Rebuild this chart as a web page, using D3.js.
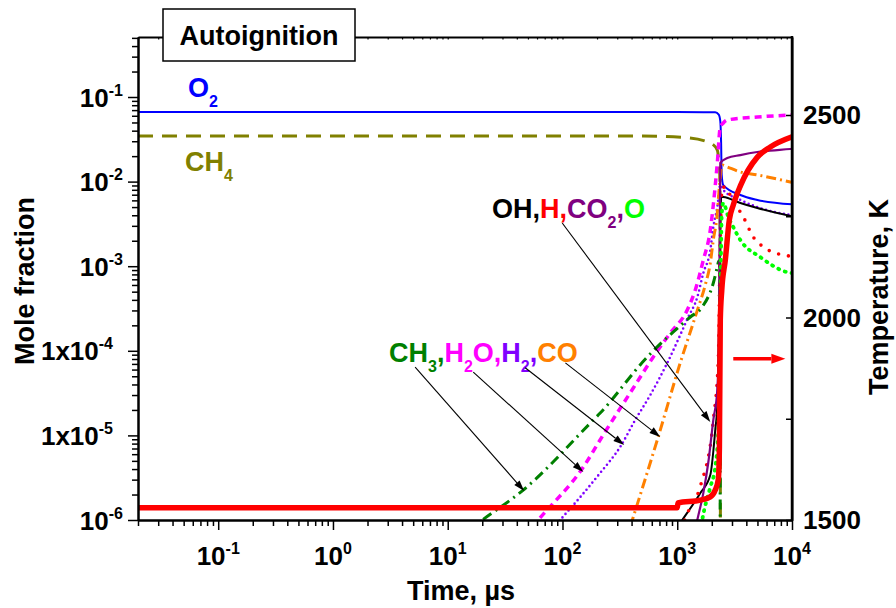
<!DOCTYPE html>
<html>
<head>
<meta charset="utf-8">
<script src="https://cdn.jsdelivr.net/npm/d3@7"></script>
<style>
  html, body { margin: 0; padding: 0; background: #fff; }
  svg { display: block; font-family: "Liberation Sans", Arial, Helvetica, sans-serif; font-weight: bold; }
</style>
</head>
<body>
<svg id="chart" width="896" height="608"></svg>
<script>
// ---- axis ranges and tick labels ----
const timeDomain = [0.02, 1e4];          // µs
const moleDomain = [1e-6, 0.512];        // mole fraction
const tempDomain = [1500, 2692.6];       // K

const timeTicks = [0.1, 1, 10, 100, 1000, 10000];
const timeTickLabels = [["10", "-1"], ["10", "0"], ["10", "1"], ["10", "2"], ["10", "3"], ["10", "4"]];
const moleTicks = [1e-6, 1e-5, 1e-4, 1e-3, 1e-2, 1e-1];
const moleTickLabels = [["10", "-6"], ["1x10", "-5"], ["1x10", "-4"], ["10", "-3"], ["10", "-2"], ["10", "-1"]];
const tempTicks = [1500, 1750, 2000, 2250, 2500];
const tempTickLabels = ["1500", "", "2000", "", "2500"];

// ---- species profiles: [time µs, mole fraction] ----
const O2 = [[0.02, 6.65e-2], [100, 6.65e-2], [1000, 6.63e-2], [2144, 6.6e-2], [2300, 6.2e-2], [2372, 5.2e-2],
  [2410, 3.0e-2], [2440, 1.2e-2], [2518, 9.1e-3], [3548, 6.95e-3], [4990, 6.07e-3], [10000, 5.4e-3]];
const CH4 = [[0.02, 3.46e-2], [500, 3.45e-2], [1200, 3.3e-2], [1941, 2.86e-2], [2234, 2.36e-2], [2300, 1.8e-2],
  [2350, 1.2e-2], [2365, 1e-3], [2380, 1e-7]];
const H2O = [[40, 5e-7], [61.4, 1e-6], [152, 4.23e-6], [226, 1.01e-5], [414, 3.63e-5], [618, 8.45e-5], [869, 1.62e-4],
  [1222, 3.03e-4], [1436, 5.23e-4], [1687, 1.18e-3], [1941, 2.68e-3], [2062, 5.29e-3], [2234, 1.66e-2],
  [2372, 4.42e-2], [2518, 4.93e-2], [2730, 5.35e-2], [4990, 5.8e-2], [10000, 6.13e-2]];
const H2 = [[62, 5e-7], [95.5, 1e-6], [143, 1.87e-6], [213, 3.6e-6], [318, 7.3e-6], [430, 1.52e-5], [582, 3.0e-5],
  [819, 7.2e-5], [1247, 2.5e-4], [1495, 4.3e-4], [1687, 8.3e-4], [1941, 1.55e-3], [2062, 2.9e-3], [2234, 5.0e-3],
  [2372, 9.1e-3], [2518, 7.96e-3], [3548, 6.07e-3], [4990, 5.0e-3], [10000, 4.0e-3]];
const CO = [[345, 5e-7], [406, 1e-6], [670, 8.83e-6], [1062, 7.2e-5], [1495, 3.0e-4], [1754, 6.0e-4], [1941, 1.09e-3],
  [2062, 2.04e-3], [2234, 4.26e-3], [2280, 6.07e-3], [2468, 1.57e-2], [2730, 1.49e-2], [3548, 1.30e-2],
  [4990, 1.20e-2], [9662, 9.9e-3], [10000, 9.8e-3]];
const CH3 = [[10, 5e-7], [20, 1e-6], [45.5, 2.26e-6], [175, 1.40e-5], [213, 1.84e-5], [548, 8.45e-5], [1300, 2.51e-4],
  [1652, 3.30e-4], [2062, 6.33e-4], [2234, 9.8e-4], [2300, 1.15e-3], [2350, 9e-4], [2372, 1e-7]];
const OH = [[860, 6e-7], [1106, 1e-6], [1589, 2.08e-6], [1941, 3.4e-6], [2144, 1.16e-5], [2234, 2.29e-5], [2324, 3e-4],
  [2372, 3e-3], [2420, 6.6e-3], [2518, 6.58e-3], [3548, 5.59e-3], [4990, 4.87e-3], [10000, 3.9e-3]];
const H = [[1000, 6e-7], [1230, 1.21e-6], [1589, 2.5e-6], [2062, 1.5e-5], [2280, 8e-5], [2372, 2e-3], [2468, 8.6e-3],
  [2624, 8.6e-3], [3020, 6.07e-3], [3766, 3.82e-3], [4602, 2.21e-3], [5624, 1.69e-3], [6730, 1.47e-3],
  [8396, 1.36e-3], [10000, 1.3e-3]];
const CO2 = [[1376, 6e-7], [1495, 1e-6], [1687, 2.08e-6], [1862, 4.72e-6], [2062, 1.52e-5], [2234, 3.44e-5], [2324, 3e-4],
  [2372, 1.66e-2], [2730, 1.9e-2], [3548, 2.06e-2], [4990, 2.24e-2], [9662, 2.43e-2], [10000, 2.44e-2]];
const O = [[1560, 6e-7], [1652, 1e-6], [1941, 2.45e-6], [2144, 4.23e-6], [2280, 1.16e-5], [2372, 3e-4], [2440, 4e-3],
  [2518, 5.59e-3], [2786, 3.82e-3], [3078, 2.9e-3], [3548, 2.04e-3], [5296, 1.28e-3], [9100, 8.5e-4], [10000, 8.3e-4]];

// ---- temperature profile: [time µs, K] ----
const temperature = [[0.02, 1530], [1000, 1530], [1015, 1542], [1589, 1549], [1941, 1557], [2144, 1574], [2280, 1600],
  [2330, 1680], [2372, 1994], [2444, 2068], [2624, 2142], [2843, 2241], [3078, 2278], [3548, 2325], [4990, 2396],
  [6472, 2421], [10000, 2446]];

// ---- annotation arrows (data coordinates) ----
const speciesArrows = [
  { from: [5.2, 6.4e-5], to: [46.4, 2.2e-6] },
  { from: [16.7, 5.6e-5], to: [152, 3.7e-6] },
  { from: [47.3, 6.3e-5], to: [345, 7.7e-6] },
  { from: [106, 7.2e-5], to: [711, 9.6e-6] },
  { from: [99.5, 3.24e-3], to: [1941, 1.44e-5] }
];
const tempArrow = { from: [3078, 1898], to: [8750, 1898] };

// ---- layout ----
const L = 138, R = 792, TOP = 37, BOT = 520;
const svg = d3.select("#chart");

const x = d3.scaleLog().domain(timeDomain).range([L, R]);
const y = d3.scaleLog().domain(moleDomain).range([BOT, TOP]);
const yT = d3.scaleLinear().domain(tempDomain).range([BOT, TOP]);

svg.append("defs").append("clipPath").attr("id", "plotClip")
  .append("rect").attr("x", L).attr("y", TOP).attr("width", R - L).attr("height", BOT - TOP);

const plot = svg.append("g").attr("clip-path", "url(#plotClip)");

const line = d3.line()
  .x(d => x(d[0]))
  .y(d => y(Math.max(d[1], 1e-9)))
  .curve(d3.curveMonotoneX);

const styles = [
  { data: O2, color: "#0000ff", width: 2 },
  { data: CH4, color: "#808000", width: 3, dash: "15,9" },
  { data: H2O, color: "#ff00ff", width: 3.5, dash: "7,5" },
  { data: H2, color: "#8000ff", width: 2.6, dash: "0,4.6", cap: "round" },
  { data: CO, color: "#ff8000", width: 3, dash: "10,4,2,4" },
  { data: CH3, color: "#008000", width: 3, dash: "10,5,2,5" },
  { data: OH, color: "#000000", width: 2 },
  { data: H, color: "#ff0000", width: 3.6, dash: "0,10", cap: "round" },
  { data: CO2, color: "#800080", width: 2.2 },
  { data: O, color: "#00ff00", width: 3.8, dash: "1,6", cap: "round" }
];

styles.forEach(s => {
  plot.append("path")
    .datum(s.data)
    .attr("d", line)
    .attr("fill", "none")
    .attr("stroke", s.color)
    .attr("stroke-width", s.width)
    .attr("stroke-dasharray", s.dash || null)
    .attr("stroke-linecap", s.cap || "butt")
    .attr("stroke-linejoin", "round");
});

const tLine = d3.line()
  .x(d => x(d[0]))
  .y(d => yT(d[1]))
  .curve(d3.curveMonotoneX);

plot.append("path")
  .datum(temperature)
  .attr("d", tLine)
  .attr("fill", "none")
  .attr("stroke", "#ff0000")
  .attr("stroke-width", 5.5)
  .attr("stroke-linejoin", "round");

// ---- axes ----
function minorLog(domain) {
  const out = [];
  for (let e = Math.floor(Math.log10(domain[0])); e <= Math.ceil(Math.log10(domain[1])); e++) {
    for (let m = 2; m <= 9; m++) {
      const v = m * Math.pow(10, e);
      if (v >= domain[0] * 0.999 && v <= domain[1] * 1.001) out.push(v);
    }
  }
  return out;
}
const timeMinor = minorLog(timeDomain);
const moleMinor = minorLog(moleDomain);

function styleAxis(g, tickW) {
  g.selectAll("path.domain").attr("stroke", "#000").attr("stroke-width", 2);
  g.selectAll(".tick line").attr("stroke", "#000").attr("stroke-width", tickW || 1.5);
  g.selectAll(".tick text").remove();
}

// bottom
svg.append("g").attr("transform", `translate(0,${BOT})`)
  .call(d3.axisBottom(x).tickValues(timeMinor).tickSize(6).tickSizeOuter(0).tickFormat(""))
  .call(g => styleAxis(g));
svg.append("g").attr("transform", `translate(0,${BOT})`)
  .call(d3.axisBottom(x).tickValues(timeTicks).tickSize(10).tickSizeOuter(0).tickFormat(""))
  .call(g => styleAxis(g));
// top (small inward ticks)
svg.append("g").attr("transform", `translate(0,${TOP})`)
  .call(d3.axisBottom(x).tickValues(timeMinor.concat(timeTicks)).tickSize(2.5).tickSizeOuter(0).tickFormat(""))
  .call(g => styleAxis(g, 1.2));
// left
svg.append("g").attr("transform", `translate(${L},0)`)
  .call(d3.axisLeft(y).tickValues(moleMinor).tickSize(6).tickSizeOuter(0).tickFormat(""))
  .call(g => styleAxis(g));
svg.append("g").attr("transform", `translate(${L},0)`)
  .call(d3.axisLeft(y).tickValues(moleTicks).tickSize(10).tickSizeOuter(0).tickFormat(""))
  .call(g => styleAxis(g));
// right (temperature, inward ticks)
svg.append("g").attr("transform", `translate(${R},0)`)
  .call(d3.axisLeft(yT).tickValues(tempTicks).tickSize(6).tickSizeOuter(0).tickFormat(""))
  .call(g => styleAxis(g));
svg.append("line").attr("x1", R).attr("x2", R).attr("y1", TOP - 1).attr("y2", BOT + 1)
  .attr("stroke", "#000").attr("stroke-width", 2.5);

// ---- rich text helper (sub/superscripts) ----
function rich(parent, px, py, parts, size, anchor) {
  const t = parent.append("text").attr("x", px).attr("y", py)
    .attr("font-size", size).attr("text-anchor", anchor || "start");
  let shift = 0;
  parts.forEach(p => {
    const target = p.shift || 0;
    const ts = t.append("tspan").text(p.text).attr("fill", p.color || "#000");
    if (p.size) ts.attr("font-size", p.size);
    if (target !== shift) { ts.attr("dy", target - shift); shift = target; }
  });
  return t;
}
const SUB = 10, SUP = -11, SMALL = 16;

// tick labels
timeTicks.forEach((v, i) => {
  rich(svg, x(v), 565, [{ text: timeTickLabels[i][0] }, { text: timeTickLabels[i][1], shift: SUP, size: SMALL }], 26, "middle");
});
moleTicks.forEach((v, i) => {
  const lab = moleTickLabels[i];
  const right = lab[0].length > 2 ? 113 : 123;
  rich(svg, right, y(v) + 9.5, [{ text: lab[0] }, { text: lab[1], shift: SUP, size: SMALL }], 26, "end");
});
tempTicks.forEach((v, i) => {
  if (!tempTickLabels[i]) return;
  svg.append("text").attr("x", 803).attr("y", yT(v) + 9).attr("font-size", 26).text(tempTickLabels[i]);
});

// axis titles
svg.append("text").attr("x", 461).attr("y", 600).attr("font-size", 27)
  .attr("text-anchor", "middle").text("Time, \u00b5s");
svg.append("text").attr("transform", "translate(34,281) rotate(-90)").attr("font-size", 27)
  .attr("text-anchor", "middle").text("Mole fraction");
svg.append("text").attr("transform", "translate(888,297) rotate(-90)").attr("font-size", 27)
  .attr("text-anchor", "middle").text("Temperature, K");

// title box
svg.append("rect").attr("x", 163).attr("y", 9).attr("width", 192).attr("height", 52)
  .attr("fill", "#fff").attr("stroke", "#000").attr("stroke-width", 1.5);
svg.append("text").attr("x", 259).attr("y", 45).attr("font-size", 27)
  .attr("text-anchor", "middle").text("Autoignition");

// species labels
rich(svg, 188, 97, [{ text: "O", color: "#0000ff" }, { text: "2", color: "#0000ff", shift: SUB, size: SMALL }], 27);
rich(svg, 185, 171, [{ text: "CH", color: "#808000" }, { text: "4", color: "#808000", shift: SUB, size: SMALL }], 27);
rich(svg, 492, 218, [
  { text: "OH,", color: "#000" },
  { text: "H,", color: "#ff0000" },
  { text: "CO", color: "#800080" },
  { text: "2", color: "#800080", shift: SUB, size: SMALL },
  { text: ",", color: "#800080" },
  { text: "O", color: "#00ff00" }
], 27);
rich(svg, 389, 362, [
  { text: "CH", color: "#008000" },
  { text: "3", color: "#008000", shift: SUB, size: SMALL },
  { text: ",", color: "#008000" },
  { text: "H", color: "#ff00ff" },
  { text: "2", color: "#ff00ff", shift: SUB, size: SMALL },
  { text: "O,", color: "#ff00ff" },
  { text: "H", color: "#8000ff" },
  { text: "2", color: "#8000ff", shift: SUB, size: SMALL },
  { text: ",", color: "#8000ff" },
  { text: "CO", color: "#ff8000" }
], 27);

// ---- arrows ----
function arrow(x1, y1, x2, y2, color, width, headLen, headHalf) {
  const ang = Math.atan2(y2 - y1, x2 - x1);
  const bx = x2 - headLen * Math.cos(ang), by = y2 - headLen * Math.sin(ang);
  svg.append("line").attr("x1", x1).attr("y1", y1).attr("x2", bx).attr("y2", by)
    .attr("stroke", color).attr("stroke-width", width);
  const px = -Math.sin(ang) * headHalf, py = Math.cos(ang) * headHalf;
  svg.append("path")
    .attr("d", `M${x2},${y2}L${bx + px},${by + py}L${bx - px},${by - py}Z`)
    .attr("fill", color);
}
speciesArrows.forEach(a => {
  arrow(x(a.from[0]), y(a.from[1]), x(a.to[0]), y(a.to[1]), "#000", 1.1, 11, 3.5);
});
arrow(x(tempArrow.from[0]), yT(tempArrow.from[1]), x(tempArrow.to[0]), yT(tempArrow.to[1]), "#ff0000", 3.5, 14, 5);
</script>
</body>
</html>
